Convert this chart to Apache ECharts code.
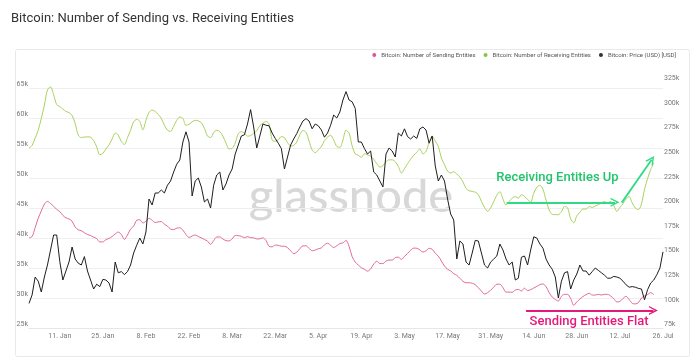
<!DOCTYPE html>
<html><head><meta charset="utf-8">
<script src="https://cdn.jsdelivr.net/npm/echarts@6/dist/echarts.min.js"></script>
<style>html,body{margin:0;padding:0;background:#fff}#c{width:700px;height:357px}</style>
</head><body><div id="c"></div>
<script>
// Day 0 = 2021-01-01, one value per day
const startDay = '2021-01-01';
const xLabelDates = ['2021-01-11','2021-01-25','2021-02-08','2021-02-22','2021-03-08','2021-03-22','2021-04-05',
  '2021-04-19','2021-05-03','2021-05-17','2021-05-31','2021-06-14','2021-06-28','2021-07-12','2021-07-26'];
const leftTicksK = [25, 65, 5];     // min, max, step (price, thousands USD)
const rightTicksK = [75, 325, 25];  // min, max, step (entities, thousands)

const seriesNames = ['Bitcoin: Number of Sending Entities','Bitcoin: Number of Receiving Entities','Bitcoin: Price (USD) [USD]'];

// Number of sending entities (thousands), daily from 2021-01-01
const sending = [
166.6,168,177,186.5,194,201,203.7,201.5,198.8,195.5,
193.4,189.5,187,185.8,183.5,177.5,174.8,173.9,171.8,170,
169,167.3,165.8,162.5,162.5,164.9,166,168,170.5,172.5,
170,165,169.5,175.5,178.5,184.5,185,181.8,183.5,186.5,
184.5,182.2,182.8,183.2,180.4,178.5,175.5,175,176.5,176.8,
174.5,170,167,168.5,169.5,168,166.6,165,163.3,160,
163.8,167.5,167.5,165.5,163.8,163.5,165.5,169,168.8,168.2,
166.8,167.8,166.8,166.6,165.5,165.6,166.6,164,158,157.5,
159.2,159,158.1,158.1,156.6,153.5,150.5,152,155.5,158.5,
158.5,156,153.5,154.2,155.6,156.4,159.5,161.2,159,156.8,
158.5,160.8,161.5,164,158,147.5,142,139,136.2,134.6,
132.8,135,140,142.8,140.5,140.5,143,144,144,146.5,
147,144.7,147.8,150.8,154,156.2,156,154.3,152.2,153.5,
156,155,151,148,143,138,134.7,133,130.2,128.5,
125.5,122.5,121,121,120.5,119,115.9,112.6,109.5,110.9,
113.5,116.5,119.5,119.5,116,111.5,111.5,111.3,113.5,114.2,
112.6,115.5,113,114,115.6,117.3,119,119.8,117,111,
106.5,104,102.4,107.2,109.2,109.2,105,98,101.5,104.5,
107,108.8,110.3,108.5,108.5,109.2,108.5,109.2,109.2,107.5,
104.8,101.5,102,105,107.2,104,100,99.5,100.7,105.5,
107.5,109,110.9,109
];

// Number of receiving entities (thousands), daily from 2021-01-01
const receiving = [
257.8,260.5,268,276,288,301.5,317,320,312,302,
300,297.5,295,294,291,283,271,268.6,269,269.3,
268.8,265.5,259,251,252.5,257,261,267,273,271,
264.5,261.5,268.5,276,284.5,287,285,276.4,286,294,
296.5,295,292,288,281,276,274.7,280,286,289.5,
288,281,282,284.5,286,285.5,283.5,278,270,268.5,
273.5,276,274.5,270,263,257,257.5,263,272.5,274.5,
273,270,270.5,273,275.5,280.7,283,284.8,282.4,266,
264.8,266.2,269.6,268.3,263.5,260,260.5,264,271.5,275.7,
274,265,256,253.2,256,259.4,265.5,269,270.8,266,
259.5,258.5,266,276,273,260,252,250.5,248.5,252,
251,249.5,246.5,242,238.5,240,244,245.9,245.9,244,
239.2,232.5,237,242,246.5,250.5,253.5,257,252,254.5,
263.5,270,265,259.4,247.7,241,234.5,232.5,233.8,231.5,
228.5,223.5,217,214.5,213.9,213,210.5,203.7,197.5,193.6,
197,203.5,210,213.5,206,200,203.5,207,208.5,207,
210.5,208.8,205.6,203,212,218,220,216,205,195,
190.5,190.2,190.2,193.3,198.5,197.2,186,182,189,192.5,
196,195.8,198.5,197.5,199,200.3,202,203.6,202,203.6,
199.5,193.5,197.5,201.5,206,208.5,202,197,195.3,201,
216,227,236,243
];

// Bitcoin price (thousands USD), daily from 2021-01-01
const price = [
29.1,30.5,33.5,32.8,31.0,33.5,35.5,38.0,40.5,40.5,
36.1,33.0,34.5,36.0,38.5,36.5,35.8,35.5,36.9,34.5,
33.0,31.5,32.3,31.9,33.1,33.0,32.5,31.0,36.0,34.2,
34.4,33.9,34.4,35.5,37.5,38.8,40.0,39.0,41.0,46.5,
45.5,47.5,47.5,48.0,47.5,48.8,49.5,51.0,52.3,53.0,
56.0,57.7,56.0,47.0,49.5,50.0,48.5,46.0,46.5,45.0,
48.8,50.5,51.0,48.0,49.0,50.5,51.5,54.0,55.5,57.0,
57.2,59.0,61.4,58.5,55.0,57.0,59.0,58.8,58.7,57.5,
56.6,55.8,54.9,51.5,53.5,55.5,56.5,57.4,58.5,59.5,
59.9,59.5,58.2,59.0,58.7,58.0,56.8,57.5,58.8,60.5,
60.0,61.0,63.0,64.4,63.0,62.7,61.6,56.0,56.0,54.9,
54.0,54.5,51.0,50.5,49.5,48.5,54.0,55.0,54.5,53.5,
57.5,57.0,58.2,56.9,56.5,57.0,56.6,58.2,58.5,58.0,
55.8,57.0,52.0,49.5,50.5,49.5,46.5,44.0,43.0,36.5,
39.5,39.0,36.0,35.5,37.5,39.6,39.5,37.5,35.5,35.0,
36.0,36.5,37.0,39.0,38.0,36.5,35.5,36.0,33.0,33.3,
36.8,37.0,35.5,38.0,40.2,40.0,39.0,38.3,36.5,35.5,
34.8,33.5,30.0,32.8,34.2,34.4,31.5,33.0,34.0,35.5,
34.5,34.5,33.8,34.4,35.0,34.6,34.2,33.8,33.3,33.3,
33.6,33.5,33.3,32.8,32.2,31.8,31.9,31.8,31.6,31.5,
29.7,31.4,32.5,33.0,33.9,35.0,37.7
];

// Annotations: [day index, entities (thousands)]
const recvArrowFlat = [[155.2, 202.7], [190.4, 202.7]];
const recvArrowUp = [[192.6, 202.4], [202.3, 246]];
const sendArrowFlat = [[161.5, 92.9], [202.9, 92.9]];
const recvLabel = {text: 'Receiving Entities Up', at: [171.7, 227.4]};
const sendLabel = {text: 'Sending Entities Flat', at: [182, 81.5]};

const DAY = 86400000;
const t0 = Date.parse(startDay + 'T00:00:00Z');
const tOf = d => t0 + d * DAY;
const pairs = arr => arr.map((v, i) => [tOf(i), v]);
const months = ['Jan','Feb','Mar','Apr','May','Jun','Jul','Aug','Sep','Oct','Nov','Dec'];
const xLabelTimes = xLabelDates.map(s => Date.parse(s + 'T00:00:00Z'));
const ptOf = p => [tOf(p[0]), p[1]];

const COL_SEND = '#e3689b', COL_RECV = '#a9d25c', COL_PRICE = '#1e1e1e';
const GREEN = '#22c46e', PINK = '#e5197a';
const chevron = 'path://M0,10 L5,0 L10,10 L8.4,10 L5,3.4 L1.6,10 Z';
const FONT = 'Roboto';

const chart = echarts.init(document.getElementById('c'), null, {renderer: 'canvas'});
chart.setOption({
  animation: false,
  backgroundColor: '#fff',
  title: {
    text: 'Bitcoin: Number of Sending vs. Receiving Entities',
    left: 11, top: 12, padding: 0,
    textStyle: {fontFamily: FONT, fontSize: 13, fontWeight: 'normal', color: '#333'}
  },
  legend: {
    right: 24, top: 52, padding: 0, itemGap: 8, itemWidth: 4, itemHeight: 4, icon: 'circle',
    textStyle: {fontFamily: FONT, fontSize: 6, color: '#555'},
    data: [
      {name: seriesNames[0], itemStyle: {color: '#e0559a'}},
      {name: seriesNames[1], itemStyle: {color: '#86c542'}},
      {name: seriesNames[2], itemStyle: {color: '#333'}}
    ]
  },
  graphic: [
    {type: 'rect', left: 13, top: 47, z: -10, silent: true,
      shape: {width: 674, height: 307, r: 2}, style: {fill: 'none', stroke: '#e9e9e9', lineWidth: 1}},
    {type: 'text', x: 351, y: 197, z: -5, silent: true,
      style: {text: 'glassnode', font: '500 47px Lato', fill: '#d8d8d8', align: 'center', verticalAlign: 'middle'}}
  ],
  grid: [
    {left: 29, right: 37, top: 88, bottom: 29},
    {left: 29, right: 37, top: 82, bottom: 29}
  ],
  xAxis: [
    {type: 'value', gridIndex: 0, min: tOf(0), max: tOf(price.length - 1),
      axisLine: {show: true, lineStyle: {color: '#e6e6e6'}}, axisTick: {show: false}, splitLine: {show: false},
      axisLabel: {customValues: xLabelTimes, showMinLabel: true, showMaxLabel: true, color: '#777', fontFamily: FONT, fontSize: 7, margin: 5,
        formatter: v => { const d = new Date(v); return d.getUTCDate() + '. ' + months[d.getUTCMonth()]; }}},
    {type: 'value', gridIndex: 1, min: tOf(0), max: tOf(price.length - 1), show: false}
  ],
  yAxis: [
    {type: 'value', gridIndex: 0, position: 'left', min: leftTicksK[0], max: leftTicksK[1], interval: leftTicksK[2],
      axisLine: {show: false}, axisTick: {show: false},
      splitLine: {lineStyle: {color: '#efefef'}},
      axisLabel: {formatter: v => v + 'k', color: '#777', fontFamily: FONT, fontSize: 7, margin: 1, verticalAlign: 'bottom'}},
    {type: 'value', gridIndex: 1, position: 'right', min: rightTicksK[0], max: rightTicksK[1], interval: rightTicksK[2],
      axisLine: {show: false}, axisTick: {show: false}, splitLine: {show: false},
      axisLabel: {formatter: v => v + 'k', color: '#777', fontFamily: FONT, fontSize: 7, margin: 1, verticalAlign: 'bottom'}}
  ],
  series: [
    {name: seriesNames[0], type: 'line', xAxisIndex: 1, yAxisIndex: 1, data: pairs(sending), showSymbol: false, symbol: 'none',
      smooth: 0.3, lineStyle: {color: COL_SEND, width: 1}, itemStyle: {color: '#e0559a'}, z: 2,
      markLine: {silent: true, symbol: ['none', chevron], symbolSize: 9, label: {show: false},
        lineStyle: {color: PINK, width: 1.8, type: 'solid'},
        data: [[{coord: ptOf(sendArrowFlat[0])}, {coord: ptOf(sendArrowFlat[1])}]]},
      markPoint: {silent: true, symbol: 'circle', symbolSize: 1, itemStyle: {color: 'rgba(0,0,0,0)'},
        label: {show: true, position: 'inside', formatter: sendLabel.text, color: PINK, fontFamily: FONT, fontSize: 13, fontWeight: 500},
        data: [{coord: ptOf(sendLabel.at)}]}},
    {name: seriesNames[1], type: 'line', xAxisIndex: 1, yAxisIndex: 1, data: pairs(receiving), showSymbol: false, symbol: 'none',
      smooth: 0.3, lineStyle: {color: COL_RECV, width: 1}, itemStyle: {color: '#86c542'}, z: 2,
      markLine: {silent: true, symbol: ['none', chevron], symbolSize: 9, label: {show: false},
        lineStyle: {color: '#2fdc86', width: 1.8, type: 'solid'},
        data: [[{coord: ptOf(recvArrowFlat[0])}, {coord: ptOf(recvArrowFlat[1])}],
               [{coord: ptOf(recvArrowUp[0])}, {coord: ptOf(recvArrowUp[1])}]]},
      markPoint: {silent: true, symbol: 'circle', symbolSize: 1, itemStyle: {color: 'rgba(0,0,0,0)'},
        label: {show: true, position: 'inside', formatter: recvLabel.text, color: GREEN, fontFamily: FONT, fontSize: 13, fontWeight: 500},
        data: [{coord: ptOf(recvLabel.at)}]}},
    {name: seriesNames[2], type: 'line', xAxisIndex: 0, yAxisIndex: 0, data: pairs(price), showSymbol: false, symbol: 'none',
      lineStyle: {color: COL_PRICE, width: 1}, itemStyle: {color: '#333'}, z: 3}
  ]
});
</script>
</body></html>
